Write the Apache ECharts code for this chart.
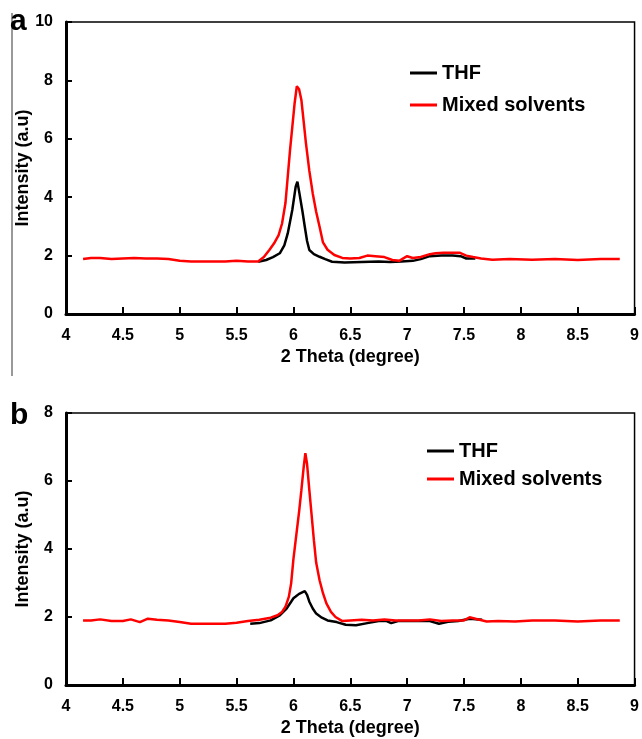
<!DOCTYPE html>
<html>
<head>
<meta charset="utf-8">
<script src="https://cdn.jsdelivr.net/npm/echarts@6/dist/echarts.min.js"></script>
<style>
html,body{margin:0;padding:0;background:#fff;}
#c{width:642px;height:739px;}
</style>
</head>
<body>
<div id="c"></div>
<script>
// ---- Data (2 Theta in degree, Intensity in a.u.) ----
const seriesNames = ['THF', 'Mixed solvents'];
const xTicksInterval = 0.5;

// Panel a
const thfA = [[5.69,1.79],[5.76,1.85],[5.82,1.95],[5.88,2.08],[5.92,2.35],[5.95,2.76],[5.99,3.56],[6.02,4.36],[6.035,4.53],[6.05,4.2],[6.08,3.5],[6.1,2.99],[6.12,2.5],[6.14,2.19],[6.18,2.05],[6.23,1.96],[6.28,1.88],[6.34,1.79],[6.45,1.76],[6.6,1.78],[6.75,1.8],[6.85,1.78],[6.95,1.8],[7.05,1.82],[7.12,1.88],[7.2,1.98],[7.3,2.0],[7.4,2.0],[7.47,1.98],[7.52,1.9],[7.6,1.9]];
const mixedA = [[4.15,1.88],[4.22,1.92],[4.3,1.92],[4.4,1.88],[4.5,1.9],[4.6,1.92],[4.7,1.9],[4.8,1.9],[4.9,1.88],[5.0,1.82],[5.1,1.8],[5.2,1.8],[5.3,1.8],[5.4,1.8],[5.5,1.82],[5.6,1.8],[5.69,1.8],[5.74,1.95],[5.79,2.2],[5.83,2.42],[5.87,2.7],[5.9,3.1],[5.93,3.8],[5.95,4.7],[5.97,5.6],[5.99,6.4],[6.01,7.2],[6.03,7.8],[6.05,7.7],[6.07,7.33],[6.09,6.6],[6.11,5.85],[6.14,4.9],[6.17,4.13],[6.2,3.5],[6.23,2.99],[6.26,2.45],[6.3,2.2],[6.36,2.02],[6.43,1.92],[6.5,1.9],[6.58,1.92],[6.65,2.0],[6.72,1.98],[6.8,1.95],[6.87,1.85],[6.93,1.82],[7.0,1.98],[7.05,1.92],[7.12,1.95],[7.2,2.05],[7.25,2.08],[7.32,2.1],[7.4,2.1],[7.46,2.1],[7.52,2.0],[7.58,1.95],[7.65,1.9],[7.75,1.86],[7.9,1.88],[8.1,1.86],[8.3,1.88],[8.5,1.85],[8.7,1.88],[8.87,1.88]];

// Panel b
const thfB = [[5.62,1.8],[5.7,1.82],[5.8,1.9],[5.88,2.05],[5.94,2.25],[5.98,2.45],[6.0,2.55],[6.02,2.6],[6.05,2.68],[6.1,2.76],[6.12,2.65],[6.14,2.45],[6.17,2.25],[6.2,2.1],[6.25,1.98],[6.3,1.9],[6.38,1.85],[6.46,1.77],[6.55,1.76],[6.65,1.82],[6.75,1.88],[6.82,1.88],[6.86,1.82],[6.92,1.88],[7.05,1.88],[7.2,1.88],[7.28,1.8],[7.36,1.86],[7.45,1.88],[7.55,1.95],[7.66,1.92]];
const mixedB = [[4.15,1.9],[4.22,1.9],[4.3,1.93],[4.4,1.88],[4.5,1.88],[4.57,1.93],[4.65,1.85],[4.72,1.95],[4.8,1.92],[4.9,1.9],[5.0,1.85],[5.1,1.8],[5.2,1.8],[5.3,1.8],[5.4,1.8],[5.5,1.83],[5.6,1.88],[5.7,1.92],[5.8,1.98],[5.86,2.05],[5.9,2.15],[5.93,2.3],[5.96,2.6],[5.98,2.99],[6.0,3.7],[6.02,4.26],[6.05,5.1],[6.07,5.73],[6.09,6.4],[6.105,6.82],[6.12,6.5],[6.14,5.73],[6.16,5.0],[6.18,4.26],[6.2,3.6],[6.23,3.08],[6.26,2.7],[6.29,2.4],[6.33,2.15],[6.37,2.0],[6.43,1.88],[6.5,1.9],[6.6,1.92],[6.7,1.9],[6.8,1.93],[6.9,1.9],[7.0,1.9],[7.1,1.9],[7.2,1.93],[7.3,1.88],[7.4,1.9],[7.5,1.9],[7.55,1.99],[7.6,1.95],[7.7,1.87],[7.8,1.88],[7.95,1.87],[8.1,1.9],[8.3,1.9],[8.5,1.87],[8.7,1.9],[8.87,1.9]];

const xRange = [4, 9];
const yRangeA = [0, 10];
const yRangeB = [0, 8];
const yInterval = 2;

// ---- Chart ----
const FONT = '"Liberation Sans", Arial, sans-serif';
const chart = echarts.init(document.getElementById('c'));

function xAxisCfg(gi) {
  return {
    type: 'value', gridIndex: gi, min: xRange[0], max: xRange[1], interval: xTicksInterval,
    name: '2 Theta (degree)', nameLocation: 'middle', nameGap: 34, nameMoveOverlap: false,
    nameTextStyle: { fontFamily: FONT, fontWeight: 'bold', fontSize: 18, color: '#000' },
    axisLine: { lineStyle: { color: '#000', width: 3 } },
    axisTick: { inside: true, length: 7, lineStyle: { color: '#000', width: 2 } },
    axisLabel: { fontFamily: FONT, fontWeight: 'bold', fontSize: 16, color: '#000', margin: 14 },
    splitLine: { show: false }
  };
}
function yAxisCfg(gi, range) {
  return {
    type: 'value', gridIndex: gi, min: range[0], max: range[1], interval: yInterval,
    name: 'Intensity (a.u)', nameLocation: 'middle', nameGap: 34, nameMoveOverlap: false,
    nameTextStyle: { fontFamily: FONT, fontWeight: 'bold', fontSize: 18, color: '#000' },
    axisLine: { lineStyle: { color: '#000', width: 3 } },
    axisTick: { inside: true, length: 6, lineStyle: { color: '#000', width: 2 } },
    axisLabel: { fontFamily: FONT, fontWeight: 'bold', fontSize: 16, color: '#000', margin: 13 },
    splitLine: { show: false }
  };
}
function legendCfg(left, top, gap) {
  return {
    data: seriesNames, orient: 'vertical', left: left, top: top,
    icon: 'rect', itemWidth: 27, itemHeight: 3, itemGap: gap,
    textStyle: { fontFamily: FONT, fontWeight: 'bold', fontSize: 20, color: '#000', lineHeight: 20 }
  };
}
function lineSeries(name, data, gi, color) {
  return {
    type: 'line', name: name, data: data, xAxisIndex: gi, yAxisIndex: gi,
    showSymbol: false, symbol: 'none', animation: false,
    lineStyle: { color: color, width: 2.5 }, itemStyle: { color: color }
  };
}

chart.setOption({
  animation: false,
  backgroundColor: '#fff',
  grid: [
    { left: 66, top: 22, width: 570, height: 292, show: true, borderColor: '#000', borderWidth: 1.5 },
    { left: 66, top: 413, width: 571, height: 272, show: true, borderColor: '#000', borderWidth: 1.5 }
  ],
  xAxis: [xAxisCfg(0), xAxisCfg(1)],
  yAxis: [yAxisCfg(0, yRangeA), yAxisCfg(1, yRangeB)],
  legend: [legendCfg(405, 58, 12), legendCfg(422, 436, 8)],
  series: [
    lineSeries(seriesNames[0], thfA, 0, '#000'),
    lineSeries(seriesNames[1], mixedA, 0, '#ff0000'),
    lineSeries(seriesNames[0], thfB, 1, '#000'),
    lineSeries(seriesNames[1], mixedB, 1, '#ff0000')
  ],
  graphic: [
    { type: 'line', shape: { x1: 12, y1: 13, x2: 12, y2: 376 }, style: { stroke: '#333', lineWidth: 1 } },
    { type: 'text', left: 10, top: 7, style: { text: 'a', font: 'bold 30px ' + FONT, fill: '#000' } },
    { type: 'text', left: 10, top: 401, style: { text: 'b', font: 'bold 30px ' + FONT, fill: '#000' } }
  ]
});
</script>
</body>
</html>
